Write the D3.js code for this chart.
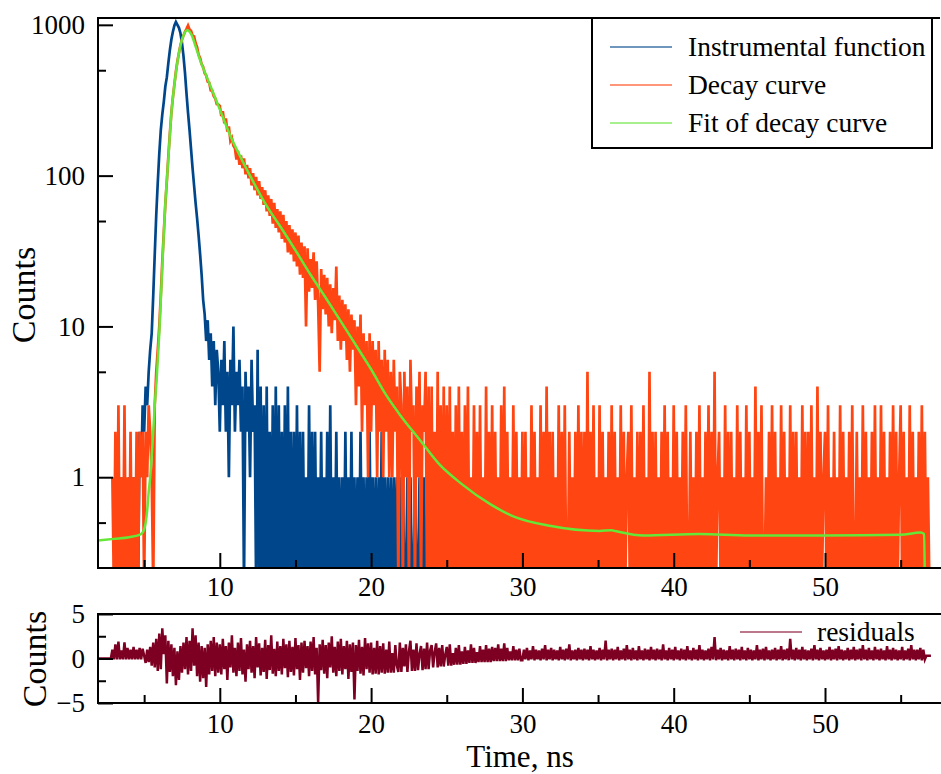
<!DOCTYPE html>
<html>
<head>
<meta charset="utf-8">
<script src="https://cdn.jsdelivr.net/npm/d3@7/dist/d3.min.js"></script>
<style>
body { margin: 0; background: #fff; }
svg text { font-family: "Liberation Serif", "Times New Roman", serif; fill: #000; }
</style>
</head>
<body>
<svg id="chart" width="941" height="774"></svg>
<script>
// channels : first channel time and width (ns)
const t0 = 2.9, dt = 0.1

// instrumental function, counts per channel from 2.9 ns
const instrCounts = [
  0,0,1,0,0,0,1,0,0,0,0,1,0,0,1,0,
  1,0,2,1,3,2,4,3,5,
  7,9,16,30,55,90,
  140,200,255,310,390,450,560,680,800,900,
  990,1045,1000,955,880,760,620,480,350,262,
  200,150,112,86,66,52,40,30,22,15,
  12,8,11,6,9,4,8,3,7,5,
  2,6,3,8,2,5,1,6,3,10,
  2,5,3,6,2,4,0,5,2,4,
  1,6,2,3,0,7,0,4,0,3,
  0,4,0,2,0,3,0,4,0,3,
  0,2,0,3,0,4,0,2,0,2,
  0,3,0,2,0,2,0,1,0,3,
  0,2,0,2,0,1,0,2,0,1,
  0,2,0,3,0,1,0,2,0,1,
  0,1,0,2,0,1,0,2,0,1,
  0,1,0,2,0,1,0,1,0,2,
  0,1,0,1,0,1,0,2,0,1,
  0,1,0,1,0,1,0,1,0,1,
  0,1,0,0,1,0,1,0,0,1,
  0,0,1,0,0,1,0,0,0,1,
  0
]

// decay curve, counts per channel from 2.9 ns to 29.9 ns
const decayCounts = [
  1,0,2,0,3,0,1,0,3,0,1,0,2,0,1,0,2,0,2,1,2,0,2,1,3,
  2,1,0,3,5,7,
  10,16,27,42,65,92,135,190,262,330,
  405,490,575,650,735,800,850,900,940,990,
  930,912,850,838,758,712,632,602,548,525,
  478,462,420,414,368,366,336,325,298,296,
  290,248,268,222,240,196,212,170,178,158,
  152,128,146,118,136,112,130,102,118,96,
  112,86,104,80,98,74,92,70,84,64,
  80,58,74,54,70,48,66,45,60,42,
  58,38,55,36,50,31,47,30,44,27,
  42,25,40,22,36,21,34,10,33,17,
  28,18,31,15,27,14,5,24,13,22,
  12,21,10,19,9,18,11,25,8,16,
  7,15,8,14,6,13,5,12,7,11,
  3,10,4,12,2,9,3,8,1,9,
  2,8,3,7,1,8,2,6,1,7,
  2,6,1,5,1,6,2,4,0,5,
  3,0,5,1,4,0,6,2,3,0,
  4,1,5,0,3,2,5,0,4,0,
  4,0,2,0,5,0,3,0,4,0,
  3,0,4,0,2,0,3,0,4,0,
  2,0,3,0,4,0,1,0,3,0,
  2,0,3,0,1,0,4,0,2,0,
  3,0,2,0,1,0,3,0,4,0,
  2,0,1,0,3,0,2,0,1,0
]
// decay curve tail, one digit per channel, 30.0 ns to 57.0 ns
const decayTail =
  "2020103020" + "1030204020" + "2010302030" + "0201020302" + "0205020301" +
  "0302010203" + "0201030201" + "2030102020" + "3010502020" + "1020302010" +
  "3020102030" + "0201020301" + "0203020501" + "2010302020" + "1030201030" +
  "2010402030" + "0102030201" + "0302010302" + "0201030202" + "0301040201" +
  "2030102010" + "3020102030" + "0201030201" + "0203010302" + "0102030201" +
  "3020103020" + "1020302010" + "0"

// fit of decay curve
const fitTime = [1.95, 3.0, 4.0, 4.8, 5.0, 5.1, 5.2, 5.3, 5.4, 5.5, 5.6, 5.7, 5.83, 6.0, 6.2, 6.38, 6.6, 6.82,
  7.0, 7.22, 7.4, 7.6, 7.85, 8.1, 8.4, 8.69, 9.0, 9.57, 10.0, 10.8, 11.4, 12.0, 13.1, 14, 15, 16, 17, 18, 19, 20,
  21, 21.9, 23.2, 24.5, 26, 27.9, 29.4, 31.8, 35.1, 35.9, 36.2, 38, 41.7, 45, 50, 55, 56.3, 56.55, 56.6]
const fitCounts = [0.38, 0.39, 0.40, 0.42, 0.45, 0.5, 0.6, 0.8, 1.0, 1.4, 2.0, 3.0, 4.5, 9, 25, 60, 130, 274,
  400, 585, 730, 850, 920, 870, 720, 585, 488, 353, 275, 174, 131, 100, 63, 46, 32, 22, 15.5, 10.8, 7.5, 5.2,
  3.5, 2.6, 1.78, 1.22, 0.9, 0.66, 0.55, 0.476, 0.44, 0.445, 0.438, 0.41, 0.42, 0.41, 0.41, 0.415, 0.43, 0.42, 0.2]

// residuals in tenths, one per channel from 2.0 ns
const residT0 = 2.0
const residTenths = [
  0,0,0,0,0,0,0,0,0,
  10,-1,16,-1,19,-1,9,-1,18,-1,12,-1,10,-1,13,-1,10,-1,12,-1,11,
  3,-5,10,-4,13,-8,18,-10,22,-14,
  28,-12,34,5,26,-28,20,-15,16,-20,
  12,-30,8,-24,14,-16,18,-12,24,-18,
  20,-14,34,-8,26,-20,18,-26,14,-22,
  12,-32,16,-18,20,-14,24,-20,18,-16,
  16,-18,22,-12,14,-24,18,-10,26,-16,
  12,-20,18,-14,23,-18,10,-26,16,-12,
  20,-16,14,-22,24,-10,17,-19,12,-15,
  21,-23,15,-13,26,-17,11,-20,19,-14,
  14,-18,22,-11,16,-21,20,-15,13,-19,
  23,-12,15,-24,18,-16,20,-11,14,-20,
  19,-14,24,-18,12,-50,16,-13,21,-17,
  15,-22,18,-10,25,-16,13,-20,19,-14,
  22,-18,14,-12,20,-23,16,-15,18,-46,
  15,-14,21,-17,13,-19,23,-12,17,-16,
  18,-18,12,-17,20,-18,14,-16,17,-17,
  10,-16,19,-16,6,-16,15,-8,-15,18,
  -15,12,-9,16,-15,8,20,-14,10,-14,
  17,-13,5,14,-13,11,-12,18,-12,9,
  15,-10,7,17,-10,12,-9,15,-9,4,
  13,-8,16,-8,6,-7,12,-7,15,-7,
  8,-6,13,-6,9,-5,16,-5,12,-5,
  7,-4,14,-4,10,-4,15,-4,11,-4,
  13,-3,12,-3,16,-3,11,-3,17,-3,
  12,-2,8,-2,14,-2,10,-2,11,-2,
  -2,10,-1,12,-2,9,-1,14,-2,10,
  -1,9,-2,11,-1,15,-2,10,-1,12,
  -2,10,-1,9,-2,13,-1,10,-2,11,
  -1,16,-2,9,-1,10,-2,12,-1,10,
  -2,11,-1,10,-2,14,-1,10,-2,9,
  -1,12,-2,10,-1,20,-2,10,-1,11,
  -2,10,-1,13,-2,9,-1,11,-2,15,
  -1,10,-2,12,-1,9,-2,14,-1,9,
  -2,11,-1,10,-2,13,-1,10,-2,11,
  -1,10,-2,16,-1,9,-2,12,-1,10,
  -2,13,-1,9,-2,11,-1,10,-2,14,
  -1,9,-2,12,-1,10,-2,15,-1,10,
  -2,9,-1,11,-2,13,-1,24,-2,10,
  -1,12,-2,10,-1,9,-2,14,-1,10,
  -2,11,-1,10,-2,13,-1,9,-2,12,
  -1,10,-2,9,-1,15,-2,10,-1,11,
  -2,13,-1,9,-2,10,-1,12,-2,10,
  -1,14,-2,10,-1,11,-2,22,-1,10,
  -2,12,-1,10,-2,13,-1,10,-2,9,
  -1,11,-2,15,-1,10,-2,12,-1,9,
  -2,10,-1,13,-2,10,-1,11,-2,14,
  -1,10,-2,9,-1,12,-2,10,-1,13,
  -2,10,-1,11,-2,15,-1,10,-2,12,
  -1,9,-2,13,-1,10,-2,11,-1,9,
  -2,14,-1,10,-2,12,-1,10,-2,9,
  -1,13,-2,9,-1,11,-2,15,-1,10,
  -2,10,-1,12,-2,10,-1,
  3,3,3,3
]

const xTicks = [10, 20, 30, 40, 50]
const xMinor = [5, 15, 25, 35, 45, 55]
const yTicks = [1, 10, 100, 1000]
const yMinor = [0.5, 5, 50, 500]
const rTicks = [-5, 0, 5]
const rMinor = [-2.5, 2.5]

const colors = { instr: "#00468b", decay: "#ff4512", fit: "#66e636", resid: "#7d0022" }

// ---- layout
const left = 98, right = 940
const top1 = 18, bot1 = 568
const top2 = 614, bot2 = 703
const tickFont = 27

const svg = d3.select("#chart")

const x = d3.scaleLinear().domain([1.95, 57.6]).range([left, right])
const y = d3.scaleLog().domain([0.25, 1110]).range([bot1, top1])
const yr = d3.scaleLinear().domain([-5, 5]).range([bot2, top2])

const defs = svg.append("defs")
defs.append("clipPath").attr("id", "clipTop").append("rect")
  .attr("x", left).attr("y", top1).attr("width", right - left).attr("height", bot1 - top1)
defs.append("clipPath").attr("id", "clipBot").append("rect")
  .attr("x", left).attr("y", top2).attr("width", right - left).attr("height", bot2 - top2)

// series as [t, value]
const instr = instrCounts.map((v, i) => [t0 + i * dt, v])
const decay = decayCounts.concat(decayTail.split("").map(Number)).map((v, i) => [t0 + i * dt, v])
const fit = fitTime.map((t, i) => [t, fitCounts[i]])
const resid = residTenths.map((v, i) => [residT0 + i * dt, v / 10])

// zero counts go below the bottom of the log axis
const countLine = d3.line()
  .x(d => x(d[0]))
  .y(d => d[1] > 0 ? y(d[1]) : bot1 + 20)

// thick strokes so the noisy channels read as a filled band, like the dense original
const gTop = svg.append("g").attr("clip-path", "url(#clipTop)")
gTop.append("path").datum(instr).attr("d", countLine)
  .attr("fill", "none").attr("stroke", colors.instr).attr("stroke-width", 2.7)
gTop.append("path").datum(decay).attr("d", countLine)
  .attr("fill", "none").attr("stroke", colors.decay).attr("stroke-width", 2.7)
gTop.append("path").datum(fit)
  .attr("d", d3.line().x(d => x(d[0])).y(d => y(Math.max(d[1], 0.2))).curve(d3.curveMonotoneX))
  .attr("fill", "none").attr("stroke", colors.fit).attr("stroke-width", 2.5)

const gBot = svg.append("g").attr("clip-path", "url(#clipBot)")
gBot.append("path").datum(resid)
  .attr("d", d3.line().x(d => x(d[0])).y(d => yr(d[1])))
  .attr("fill", "none").attr("stroke", colors.resid).attr("stroke-width", 2.5)

// ---- axes
function styleAxis(g) {
  g.select(".domain").remove()
  g.selectAll("line").attr("stroke", "#000").attr("stroke-width", 2)
  g.selectAll("text").attr("font-family", "Liberation Serif, serif").attr("font-size", tickFont).attr("fill", "#000")
}

svg.append("g").attr("transform", `translate(${left},0)`)
  .call(d3.axisLeft(y).tickValues(yTicks).tickSize(-15).tickPadding(13).tickFormat(d3.format("d")))
  .call(styleAxis)
svg.append("g").attr("transform", `translate(${left},0)`)
  .call(d3.axisLeft(y).tickValues(yMinor).tickSize(-8).tickFormat(""))
  .call(styleAxis)

svg.append("g").attr("transform", `translate(0,${bot1})`)
  .call(d3.axisBottom(x).tickValues(xTicks).tickSize(-15).tickPadding(9))
  .call(styleAxis)
svg.append("g").attr("transform", `translate(0,${bot1})`)
  .call(d3.axisBottom(x).tickValues(xMinor).tickSize(-8).tickFormat(""))
  .call(styleAxis)

svg.append("g").attr("transform", `translate(${left},0)`)
  .call(d3.axisLeft(yr).tickValues(rTicks).tickSize(-15).tickPadding(13))
  .call(styleAxis)
svg.append("g").attr("transform", `translate(${left},0)`)
  .call(d3.axisLeft(yr).tickValues(rMinor).tickSize(-8).tickFormat(""))
  .call(styleAxis)

svg.append("g").attr("transform", `translate(0,${bot2})`)
  .call(d3.axisBottom(x).tickValues(xTicks).tickSize(-15).tickPadding(11))
  .call(styleAxis)
svg.append("g").attr("transform", `translate(0,${bot2})`)
  .call(d3.axisBottom(x).tickValues(xMinor).tickSize(-8).tickFormat(""))
  .call(styleAxis)

// frame lines
const frame = svg.append("g").attr("stroke", "#000").attr("stroke-width", 2).attr("fill", "none")
frame.append("path").attr("d", `M${left},${top1}H${right}M${left},${top1 - 1}V${bot1 + 1}M${left - 1},${bot1}H941`)
frame.append("path").attr("d", `M${left - 1},${top2}H941M${left},${top2}V${bot2 + 1}M${left - 1},${bot2}H941`)

// axis titles
svg.append("text").attr("transform", "translate(35,295) rotate(-90)")
  .attr("text-anchor", "middle").attr("font-size", 34).text("Counts")
svg.append("text").attr("transform", "translate(46,659) rotate(-90)")
  .attr("text-anchor", "middle").attr("font-size", 34).text("Counts")
svg.append("text").attr("x", 520).attr("y", 767)
  .attr("text-anchor", "middle").attr("font-size", 31).text("Time, ns")

// legend
svg.append("rect").attr("x", 592).attr("y", top1).attr("width", 340).attr("height", 148 - top1)
  .attr("fill", "#fff").attr("stroke", "#000").attr("stroke-width", 2)
const legendItems = [
  ["Instrumental function", colors.instr],
  ["Decay curve", colors.decay],
  ["Fit of decay curve", colors.fit]
]
legendItems.forEach((d, i) => {
  const ly = 47 + i * 38
  svg.append("line").attr("x1", 610).attr("x2", 672).attr("y1", ly).attr("y2", ly)
    .attr("stroke", d[1]).attr("stroke-width", 1.6).attr("opacity", 0.75)
  svg.append("text").attr("x", 688).attr("y", ly + 9).attr("font-size", 27.5).text(d[0])
})
svg.append("line").attr("x1", 740).attr("x2", 802).attr("y1", 632).attr("y2", 632)
  .attr("stroke", colors.resid).attr("stroke-width", 1.4).attr("opacity", 0.7)
svg.append("text").attr("x", 817).attr("y", 641).attr("font-size", 27.5).text("residuals")
</script>
</body>
</html>
